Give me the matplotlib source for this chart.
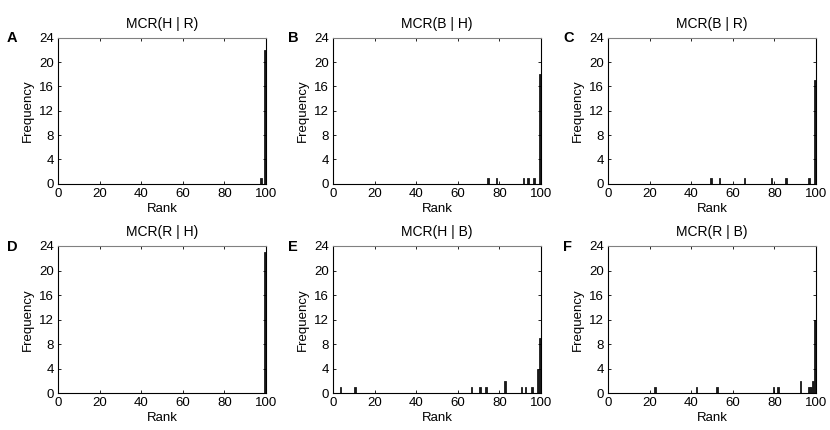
import matplotlib
matplotlib.use('Agg')
import matplotlib.pyplot as plt

plt.rcParams['font.family'] = ['Liberation Sans', 'DejaVu Sans']

# ranks (1..100) and how often each one occurred, per panel
titles = ['MCR(H | R)', 'MCR(B | H)', 'MCR(B | R)',
          'MCR(R | H)', 'MCR(H | B)', 'MCR(R | B)']
letters = ['A', 'B', 'C', 'D', 'E', 'F']

ranks_a = [98, 100]
freq_a = [1, 22]

ranks_b = [75, 79, 92, 94, 97, 100]
freq_b = [1, 1, 1, 1, 1, 18]

ranks_c = [50, 54, 66, 79, 86, 97, 100]
freq_c = [1, 1, 1, 1, 1, 1, 17]

ranks_d = [100]
freq_d = [23]

ranks_e = [4, 11, 67, 71, 74, 83, 91, 93, 96, 99, 100]
freq_e = [1, 1, 1, 1, 1, 2, 1, 1, 1, 4, 9]

ranks_f = [23, 43, 53, 80, 82, 93, 97, 98, 99, 100]
freq_f = [1, 1, 1, 1, 1, 2, 1, 1, 2, 12]

x_ticks = [0, 20, 40, 60, 80, 100]
y_ticks = [0, 4, 8, 12, 16, 20, 24]

panels = [(ranks_a, freq_a), (ranks_b, freq_b), (ranks_c, freq_c),
          (ranks_d, freq_d), (ranks_e, freq_e), (ranks_f, freq_f)]

W, H = 830., 430.
fig = plt.figure(figsize=(8.3, 4.3), dpi=100)

# axes boxes in pixels: left, top, width, height
lefts = [58, 333, 608]
tops = [37.7, 246]
aw = 208
ahs = [146, 147.3]
letter_x = [7, 288, 563]
letter_y = [38, 247]

for i, (ranks, freq) in enumerate(panels):
    row, col = divmod(i, 3)
    l = lefts[col]
    t = tops[row]
    h = ahs[row]
    ax = fig.add_axes([l / W, 1 - (t + h) / H, aw / W, h / H])
    ax.bar(ranks, freq, width=-0.85, align='edge', color='#1a1a1a',
           edgecolor='#1a1a1a', linewidth=0.6)
    ax.set_xlim(0, 100)
    ax.set_ylim(0, 24)
    ax.set_xticks(x_ticks)
    ax.set_yticks(y_ticks)
    ax.tick_params(direction='in', top=True, right=True, length=2.5,
                   width=0.6, labelsize=9.5, pad=3)
    for s in ax.spines.values():
        s.set_linewidth(0.8)
    ax.spines['top'].set_color('0.5')
    ax.set_xlabel('Rank', fontsize=9.5, labelpad=2)
    ax.set_ylabel('Frequency', fontsize=9.5, labelpad=4)
    ax.set_title(titles[i], fontsize=10, pad=7)
    fig.text(letter_x[col] / W, 1 - letter_y[row] / H, letters[i],
             fontsize=10.5, fontweight='bold', ha='left', va='center')

fig.savefig('out.png', dpi=100)
